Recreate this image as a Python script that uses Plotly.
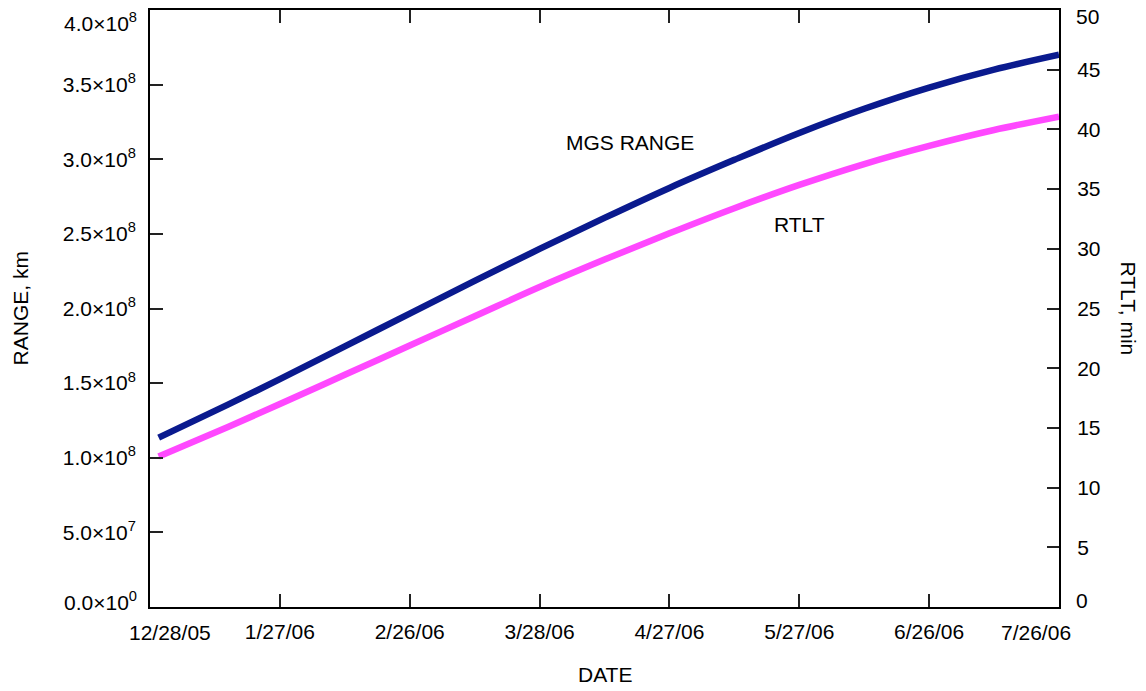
import plotly.graph_objects as go

# Dates and values
dates = ["2005-12-30", "2006-01-15", "2006-01-27", "2006-02-11", "2006-02-26",
         "2006-03-13", "2006-03-28", "2006-04-12", "2006-04-27", "2006-05-12",
         "2006-05-27", "2006-06-11", "2006-06-26", "2006-07-11", "2006-07-26"]
mgs_range_km = [1.135e8, 1.356e8, 1.527e8, 1.746e8, 1.966e8,
                2.185e8, 2.399e8, 2.607e8, 2.808e8, 2.996e8,
                3.176e8, 3.338e8, 3.480e8, 3.600e8, 3.700e8]
rtlt_min = [12.6, 15.08, 17.0, 19.45, 21.9,
            24.35, 26.8, 29.1, 31.3, 33.4,
            35.35, 37.1, 38.62, 39.95, 41.07]

x_tick_dates = ["2005-12-28", "2006-01-27", "2006-02-26", "2006-03-28",
                "2006-04-27", "2006-05-27", "2006-06-26", "2006-07-26"]
x_tick_labels = ["12/28/05", "1/27/06", "2/26/06", "3/28/06",
                 "4/27/06", "5/27/06", "6/26/06", "7/26/06"]
y_tick_vals = [0, 0.5e8, 1.0e8, 1.5e8, 2.0e8, 2.5e8, 3.0e8, 3.5e8, 4.0e8]
y_tick_labels = ["0.0×10<sup>0</sup>", "5.0×10<sup>7</sup>", "1.0×10<sup>8</sup>",
                 "1.5×10<sup>8</sup>", "2.0×10<sup>8</sup>", "2.5×10<sup>8</sup>",
                 "3.0×10<sup>8</sup>", "3.5×10<sup>8</sup>", "4.0×10<sup>8</sup>"]
y2_tick_vals = [0, 5, 10, 15, 20, 25, 30, 35, 40, 45, 50]
y2_tick_labels = [str(v) for v in y2_tick_vals]

FONT = "Liberation Sans, Arial, Helvetica, sans-serif"
FS = 21
NAVY = "#0A1A8E"
MAGENTA = "#FF48FF"

fig = go.Figure()
fig.add_trace(go.Scatter(x=dates, y=mgs_range_km, mode="lines",
                         line=dict(color=NAVY, width=6.5, shape="spline"),
                         name="MGS RANGE", yaxis="y"))
fig.add_trace(go.Scatter(x=dates, y=rtlt_min, mode="lines",
                         line=dict(color=MAGENTA, width=6.5, shape="spline"),
                         name="RTLT", yaxis="y2"))

# end labels are drawn as annotations so they can sit inside the frame like the reference
x_inner = [t if 0 < i < len(x_tick_labels) - 1 else "" for i, t in enumerate(x_tick_labels)]
y_inner = [t if 0 < i < len(y_tick_labels) - 1 else "" for i, t in enumerate(y_tick_labels)]
y2_inner = [t if 0 < i < len(y2_tick_labels) - 1 else "" for i, t in enumerate(y2_tick_labels)]

fig.update_layout(
    width=1146, height=691,
    margin=dict(l=150, r=87, t=8, b=84),
    paper_bgcolor="white", plot_bgcolor="white",
    showlegend=False,
    font=dict(family=FONT, size=FS, color="black"),
    xaxis=dict(type="date", range=["2005-12-28", "2006-07-26"],
               tickvals=x_tick_dates, ticktext=x_inner,
               ticks="inside", ticklen=13, tickwidth=1.5, tickcolor="#222",
               showline=True, linecolor="black", linewidth=2, mirror="ticks",
               showgrid=False, zeroline=False, ticklabelstandoff=5,
               tickfont=dict(family=FONT, size=FS)),
    yaxis=dict(range=[0, 4.0e8], tickvals=y_tick_vals, ticktext=y_inner,
               ticks="inside", ticklen=13, tickwidth=1.5, tickcolor="#222",
               showline=True, linecolor="black", linewidth=2,
               showgrid=False, zeroline=False, ticklabelstandoff=8,
               ticklabeloverflow="allow",
               tickfont=dict(family=FONT, size=FS)),
    yaxis2=dict(range=[0, 50], tickvals=y2_tick_vals, ticktext=y2_inner,
                overlaying="y", side="right",
                ticks="inside", ticklen=12, tickwidth=1.5, tickcolor="#222",
                showline=True, linecolor="black", linewidth=2,
                showgrid=False, zeroline=False, ticklabelstandoff=12,
                ticklabeloverflow="allow",
                tickfont=dict(family=FONT, size=FS)),
)

def ann(text, **kw):
    d = dict(text=text, showarrow=False, font=dict(family=FONT, size=FS))
    d.update(kw)
    return d

annotations = [
    ann(x_tick_labels[0], x=x_tick_dates[0], xref="x", y=-0.02, yref="paper",
        xanchor="left", yanchor="top", xshift=-23),
    ann(x_tick_labels[-1], x=x_tick_dates[-1], xref="x", y=-0.02, yref="paper",
        xanchor="right", yanchor="top", xshift=14),
    ann(y_tick_labels[-1], x=0, xref="paper", y=0.98, yref="paper",
        xanchor="right", yanchor="middle", xshift=-11),
    ann(y_tick_labels[0], x=0, xref="paper", y=0.010, yref="paper",
        xanchor="right", yanchor="middle", xshift=-11),
    ann(y2_tick_labels[-1], x=1, xref="paper", y=0.989, yref="paper",
        xanchor="left", yanchor="middle", xshift=15),
    ann(y2_tick_labels[0], x=1, xref="paper", y=0.0117, yref="paper",
        xanchor="left", yanchor="middle", xshift=15),
    ann("DATE", x=0.5, xref="paper", y=-0.1135, yref="paper",
        xanchor="center", yanchor="middle"),
    ann("RANGE, km", x=-0.142, xref="paper", y=0.5, yref="paper",
        xanchor="center", yanchor="middle", textangle=-90),
    ann("RTLT, min", x=1.077, xref="paper", y=0.5, yref="paper",
        xanchor="center", yanchor="middle", textangle=90),
    ann("MGS RANGE", x="2006-04-18", xref="x", y=3.11e8, yref="y",
        xanchor="center", yanchor="middle"),
    ann("RTLT", x="2006-05-27", xref="x", y=32.0, yref="y2",
        xanchor="center", yanchor="middle"),
]
fig.update_layout(annotations=annotations)

fig.write_html("out.html")
